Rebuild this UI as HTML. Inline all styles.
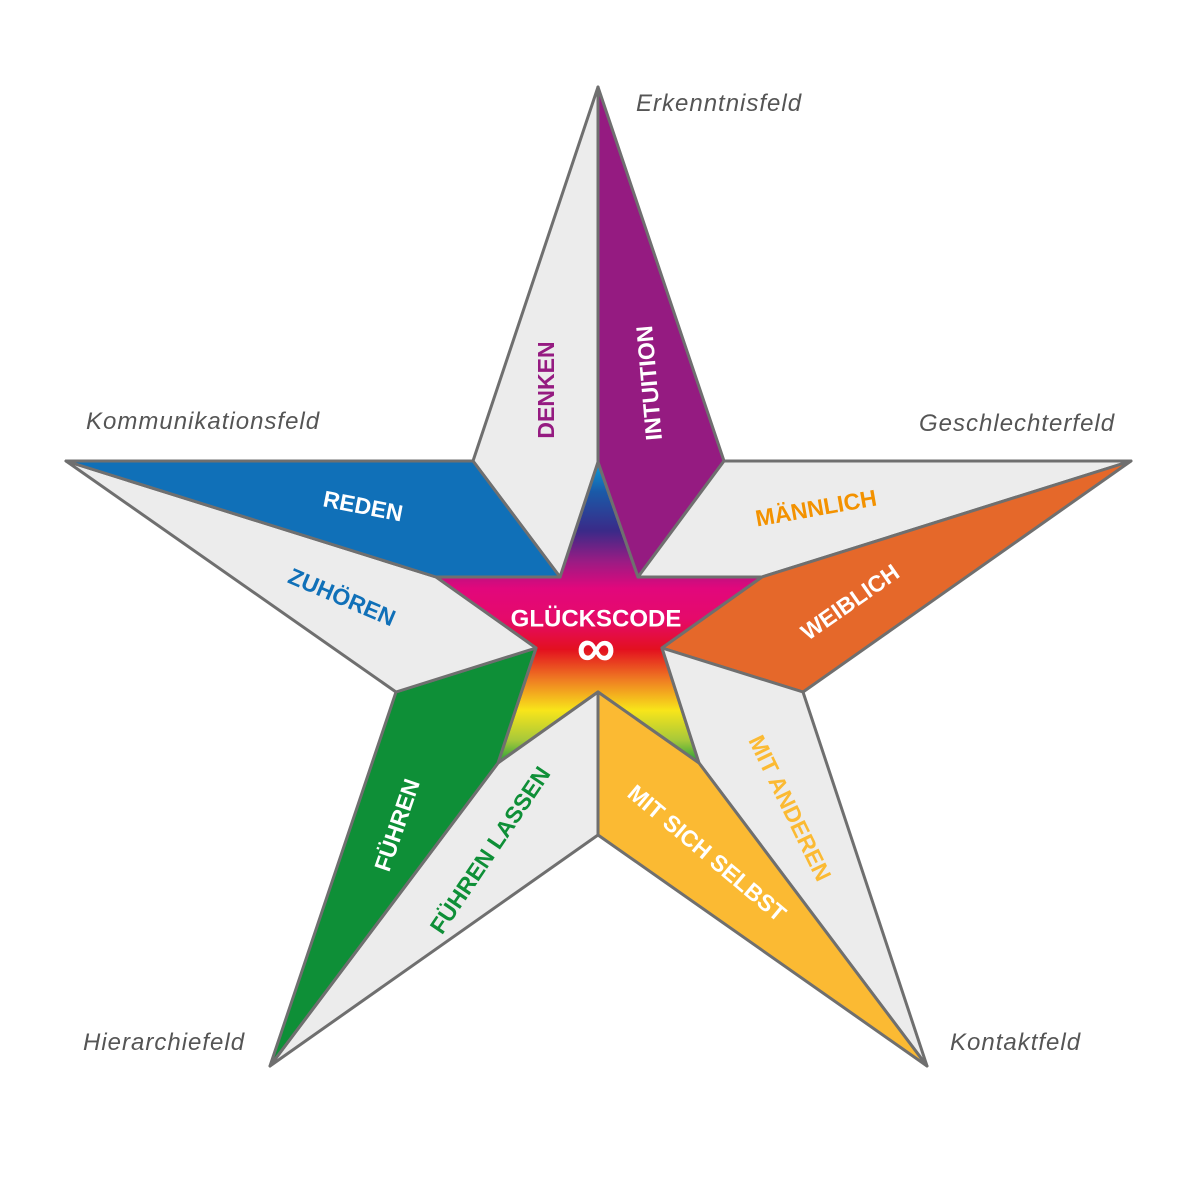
<!DOCTYPE html>
<html><head><meta charset="utf-8"><style>html,body{margin:0;padding:0;background:#fff}svg{display:block}</style></head>
<body>
<svg width="1200" height="1200" viewBox="0 0 1200 1200" xmlns="http://www.w3.org/2000/svg">
<defs>
<linearGradient id="rb" x1="0" y1="461" x2="0" y2="765" gradientUnits="userSpaceOnUse">
<stop offset="0" stop-color="#0aa0dc"/>
<stop offset="0.1" stop-color="#1a5aa8"/>
<stop offset="0.23" stop-color="#3a2a88"/>
<stop offset="0.33" stop-color="#9a1c84"/>
<stop offset="0.42" stop-color="#e2077c"/>
<stop offset="0.52" stop-color="#e50a6a"/>
<stop offset="0.62" stop-color="#e3101f"/>
<stop offset="0.72" stop-color="#ef7d22"/>
<stop offset="0.82" stop-color="#f8e51a"/>
<stop offset="0.92" stop-color="#a6c83a"/>
<stop offset="1" stop-color="#149a3a"/>
</linearGradient>
</defs>
<g stroke="#6f6f6f" stroke-width="3" stroke-linejoin="round">
<polygon points="436,577 560,577 598,462 638,577 762,577 662,648 699,763 598,692 498,763 536,648" fill="url(#rb)"/>
<polygon points="598,87 473,461 560,577 598,462" fill="#ececec"/>
<polygon points="598,87 724,461 638,577 598,462" fill="#951b81"/>
<polygon points="724,461 1131,461 762,577 638,577" fill="#ececec"/>
<polygon points="1131,461 803,692 662,648 762,577" fill="#e5682a"/>
<polygon points="803,692 927,1066 699,763 662,648" fill="#ececec"/>
<polygon points="927,1066 598,835 598,692 699,763" fill="#fbba33"/>
<polygon points="598,835 270,1066 498,763 598,692" fill="#ececec"/>
<polygon points="270,1066 396,692 536,648 498,763" fill="#0e8f37"/>
<polygon points="396,692 66,461 436,577 536,648" fill="#ececec"/>
<polygon points="66,461 473,461 560,577 436,577" fill="#1070b8"/>
</g>
<g font-family="Liberation Sans, sans-serif" font-weight="bold" font-size="23" text-anchor="middle" dominant-baseline="central">
<text transform="translate(546,390) rotate(-90)" fill="#951b81">DENKEN</text>
<text transform="translate(649,383) rotate(-95)" fill="#fff">INTUITION</text>
<text transform="translate(816,508) rotate(-10)" fill="#f39200">MÄNNLICH</text>
<text transform="translate(850,602) rotate(-35)" fill="#fff">WEIBLICH</text>
<text transform="translate(790,808) rotate(64)" fill="#fbba33">MIT ANDEREN</text>
<text transform="translate(707,853) rotate(40)" fill="#fff">MIT SICH SELBST</text>
<text transform="translate(490,850) rotate(-56)" fill="#0e8f37">FÜHREN LASSEN</text>
<text transform="translate(397,825) rotate(-71)" fill="#fff">FÜHREN</text>
<text transform="translate(342,597) rotate(23)" fill="#1070b8">ZUHÖREN</text>
<text transform="translate(363,506) rotate(11)" fill="#fff">REDEN</text>
<text x="596" y="619" fill="#fff" font-size="24">GLÜCKSCODE</text>
<text x="596" y="648" fill="#fff" font-size="54">∞</text>
</g>
<g font-family="Liberation Sans, sans-serif" font-style="italic" font-size="24" letter-spacing="1" fill="#555">
<text x="636" y="111">Erkenntnisfeld</text>
<text x="86" y="429">Kommunikationsfeld</text>
<text x="919" y="431">Geschlechterfeld</text>
<text x="83" y="1050">Hierarchiefeld</text>
<text x="950" y="1050">Kontaktfeld</text>
</g>
</svg>
</body></html>
